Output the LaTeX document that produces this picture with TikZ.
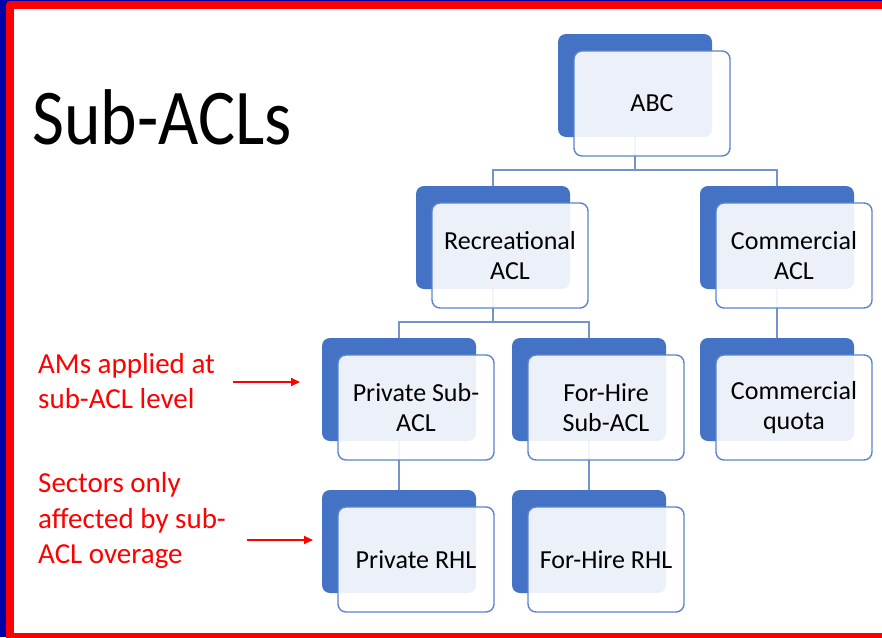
\documentclass[tikz,border=0pt]{standalone}
\usepackage{fontspec}
\setmainfont{Carlito}
\usetikzlibrary{arrows.meta}
\definecolor{navy}{RGB}{0,0,168}
\definecolor{accent}{RGB}{68,114,196}
\definecolor{frontline}{RGB}{92,131,204}
\definecolor{connline}{RGB}{116,146,204}
\begin{document}
\begin{tikzpicture}[x=1pt,y=-1pt,
  backbox/.style={draw=none,fill=accent,rounded corners=8pt,minimum width=154pt,minimum height=103pt,inner sep=0pt,outer sep=0pt,anchor=north west},
  frontbox/.style={draw=frontline,line width=1.4pt,fill=white,fill opacity=0.9,text opacity=1,rounded corners=8pt,minimum width=156pt,minimum height=105pt,inner sep=0pt,outer sep=0pt,anchor=north west,align=center,font=\fontsize{26}{30}\selectfont},
  conn/.style={draw=connline,line width=1.3pt},
  redtext/.style={text=red,inner sep=0pt,anchor=base west,font=\fontsize{29}{35}\selectfont},
  redarrow/.style={draw=red,line width=2pt,-{Triangle[length=9pt,width=8pt]}}
]
\useasboundingbox (0,0) rectangle (882,637);
% frame
\fill[navy] (0,0) rectangle (882,637);
\fill[red,rounded corners=4pt] (6,1) rectangle (900,660);
\fill[white] (14,9) rectangle (900,633);

% title
\node[inner sep=0pt,anchor=base west,font=\fontsize{79}{90}\selectfont] (title) at (32,144) {\scalebox{0.88}[1]{Sub-ACLs}};

% back boxes
\node[backbox] (abcb) at (558,34) {};
\node[backbox] (recb) at (416,186) {};
\node[backbox] (comb) at (700,186) {};
\node[backbox] (prvb) at (322,338) {};
\node[backbox] (fhsb) at (512,338) {};
\node[backbox] (cqb)  at (700,338) {};
\node[backbox] (prhb) at (322,490) {};
\node[backbox] (fhrb) at (512,490) {};

% connectors
\coordinate (lv1) at (0,170);
\coordinate (lv2) at (0,322);
\draw[conn] (abcb.south) -- (abcb.south |- lv1) -| (recb.north);
\draw[conn] (abcb.south |- lv1) -| (comb.north);
\draw[conn] (recb.south) -- (recb.south |- lv2) -| (prvb.north);
\draw[conn] (recb.south |- lv2) -| (fhsb.north);
\draw[conn] (comb.south) -- (cqb.north);
\draw[conn] (prvb.south) -- (prhb.north);
\draw[conn] (fhsb.south) -- (fhrb.north);

% front boxes
\node[frontbox] (abc) at (574,51) {ABC};
\node[frontbox] (rec) at (432,203) {Recreational\\ACL};
\node[frontbox] (com) at (716,203) {Commercial\\ACL};
\node[frontbox] (prv) at (338,355) {Private Sub-\\ACL};
\node[frontbox] (fhs) at (528,355) {For-Hire\\Sub-ACL};
\node[frontbox] (cq)  at (716,355) {Commercial\\quota};
\node[frontbox] (prh) at (338,507) {Private RHL};
\node[frontbox] (fhr) at (528,507) {For-Hire RHL};

% red annotations
\node[redtext] (r1) at (38,373) {AMs applied at};
\node[redtext] (r2) at (38,408) {sub-ACL level};
\node[redtext] (r3) at (38,492) {Sectors only};
\node[redtext] (r4) at (38,528) {affected by sub-};
\node[redtext] (r5) at (38,563) {ACL overage};
\coordinate (a1s) at (233,382);
\coordinate (a1e) at (300,382);
\coordinate (a2s) at (247,540);
\coordinate (a2e) at (313,540);
\draw[redarrow] (a1s) -- (a1e);
\draw[redarrow] (a2s) -- (a2e);
\end{tikzpicture}
\end{document}
